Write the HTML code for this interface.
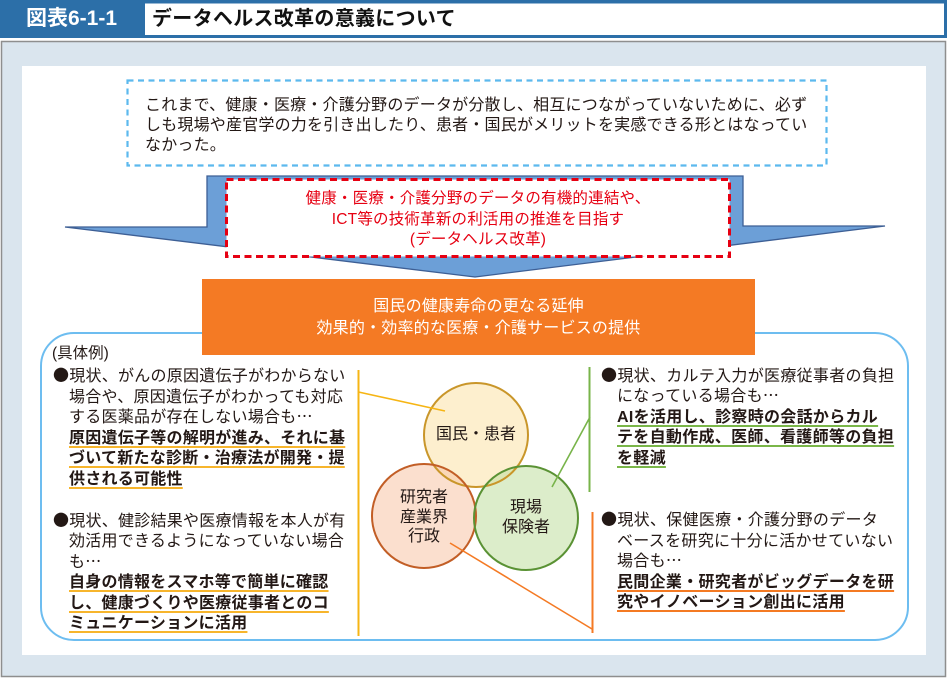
<!DOCTYPE html>
<html><head><meta charset="utf-8">
<style>
html,body{margin:0;padding:0;background:#fff;}
body{width:948px;height:678px;position:relative;overflow:hidden;font-family:"Liberation Sans","Noto Sans CJK JP",sans-serif;color:#231815;}
svg{position:absolute;left:0;top:0;}
.abs{position:absolute;white-space:nowrap;}
.j{font-family:"Noto Sans CJK JP",sans-serif;line-height:0;}
.col{position:absolute;font-size:16px;letter-spacing:0.25px;white-space:nowrap;}
.col div{height:20.4px;line-height:20.4px;}
.in{padding-left:16px;}
.u{font-weight:bold;text-decoration:underline;text-decoration-thickness:2px;text-underline-offset:3px;}
.uy{text-decoration-color:#f7b52c;}
.ug{text-decoration-color:#7ab648;}
.uo{text-decoration-color:#f47a23;}
</style></head>
<body>
<svg width="948" height="678" viewBox="0 0 948 678">
  <rect x="0" y="0" width="947" height="38" fill="#2c6fa8"/>
  <rect x="145" y="3.5" width="799" height="31.5" fill="#fff"/>
  <rect x="1.5" y="41.5" width="944" height="635" fill="#dae5ee" stroke="#8e8e8e" stroke-width="1.5"/>
  <rect x="22" y="66" width="904" height="589" fill="#fff"/>
  <rect x="127.5" y="80.5" width="699" height="85" fill="none" stroke="#5cb9ee" stroke-width="2.2" stroke-dasharray="6 4.5"/>
  <polygon points="207,176 743,176 743,226 885,226 475,277 65,227 207,227" fill="#6c9fd7" stroke="#3d5f95" stroke-width="1.3" stroke-linejoin="miter"/>
  <rect x="226.5" y="179.5" width="503" height="77" fill="#fff" stroke="#e60012" stroke-width="3" stroke-dasharray="7 4.5"/>
  <rect x="41" y="333" width="867" height="307" rx="33" ry="33" fill="#fff" stroke="#6dbdf0" stroke-width="2"/>
  <rect x="202" y="279" width="553" height="76" fill="#f47a24"/>
  <circle cx="476" cy="435" r="52" fill="#fbe2a6" fill-opacity="0.55"/>
  <circle cx="424" cy="516" r="52" fill="#f8c4a6" fill-opacity="0.55"/>
  <circle cx="526" cy="518" r="52" fill="#bfdf9f" fill-opacity="0.55"/>
  <circle cx="476" cy="435" r="52" fill="none" stroke="#c9962a" stroke-width="2"/>
  <circle cx="424" cy="516" r="52" fill="none" stroke="#c25e26" stroke-width="2"/>
  <circle cx="526" cy="518" r="52" fill="none" stroke="#5a9234" stroke-width="2"/>
  <line x1="358.5" y1="370" x2="358.5" y2="636" stroke="#f6b514" stroke-width="2"/>
  <line x1="358.5" y1="392" x2="445" y2="411" stroke="#f6b514" stroke-width="1.6"/>
  <line x1="589.5" y1="367" x2="589.5" y2="492" stroke="#78b44a" stroke-width="2"/>
  <line x1="590" y1="417" x2="552" y2="487" stroke="#78b44a" stroke-width="1.6"/>
  <line x1="592.5" y1="512" x2="592.5" y2="633" stroke="#f47a24" stroke-width="2"/>
  <line x1="450" y1="543" x2="592" y2="629" stroke="#f47a24" stroke-width="1.6"/>
</svg>

<div class="abs" style="left:0;width:143px;top:6px;height:26px;line-height:26px;text-align:center;color:#fff;font-weight:bold;font-size:21px;">図表6-1-1</div>
<div class="abs" style="left:152px;top:6px;height:26px;line-height:26px;font-weight:bold;font-size:20px;letter-spacing:0.3px;color:#111;">データヘルス改革の意義について</div>

<div class="abs" style="left:145px;top:96px;font-size:16px;letter-spacing:0.2px;line-height:20px;">
これまで、健康・医療・介護分野のデータが分散し、相互につながっていないために、必ず<br>しも現場や産官学の力を引き出したり、患者・国民がメリットを実感できる形とはなってい<br>なかった。
</div>

<div class="abs" style="left:226px;width:504px;top:189px;text-align:center;color:#e60012;font-size:15.5px;line-height:20.5px;letter-spacing:0.2px;">
健康・医療・介護分野のデータの有機的連結や、<br>ICT等の技術革新の利活用の推進を目指す<br>(データヘルス改革)
</div>

<div class="abs" style="left:202px;width:553px;top:296px;text-align:center;color:#fff;font-size:16px;line-height:21.5px;letter-spacing:0.2px;">
国民の健康寿命の更なる延伸<br>効果的・効率的な医療・介護サービスの提供
</div>

<div class="abs" style="left:416px;width:120px;top:425px;text-align:center;font-size:16px;line-height:20px;">国民・患者</div>
<div class="abs" style="left:364px;width:120px;top:488px;text-align:center;font-size:16px;line-height:19.5px;">研究者<br>産業界<br>行政</div>
<div class="abs" style="left:466px;width:120px;top:498px;text-align:center;font-size:16px;line-height:20px;">現場<br>保険者</div>

<div class="abs" style="left:52px;top:344px;font-size:15.5px;line-height:20px;">(具体例)</div>

<div class="col" style="left:53px;top:367px;">
  <div style="height:20.5px;line-height:20.5px"><span class="j">●</span>現状、がんの原因遺伝子がわからない</div>
  <div class="in" style="height:20.5px;line-height:20.5px">場合や、原因遺伝子がわかっても対応</div>
  <div class="in" style="height:20.5px;line-height:20.5px">する医薬品が存在しない場合も<span class="j">…</span></div>
  <div class="in" style="height:20.5px;line-height:20.5px"><span class="u uy">原因遺伝子等の解明が進み、それに基</span></div>
  <div class="in" style="height:20.5px;line-height:20.5px"><span class="u uy">づいて新たな診断・治療法が開発・提</span></div>
  <div class="in" style="height:20.5px;line-height:20.5px"><span class="u uy">供される可能性</span></div>
</div>

<div class="col" style="left:53px;top:512px;">
  <div><span class="j">●</span>現状、健診結果や医療情報を本人が有</div>
  <div class="in">効活用できるようになっていない場合</div>
  <div class="in">も<span class="j">…</span></div>
  <div class="in"><span class="u uy">自身の情報をスマホ等で簡単に確認</span></div>
  <div class="in"><span class="u uy">し、健康づくりや医療従事者とのコ</span></div>
  <div class="in"><span class="u uy">ミュニケーションに活用</span></div>
</div>

<div class="col" style="left:601px;top:367px;letter-spacing:0.3px;">
  <div><span class="j">●</span>現状、カルテ入力が医療従事者の負担</div>
  <div class="in">になっている場合も<span class="j">…</span></div>
  <div class="in"><span class="u ug">AIを活用し、診察時の会話からカル</span></div>
  <div class="in"><span class="u ug">テを自動作成、医師、看護師等の負担</span></div>
  <div class="in"><span class="u ug">を軽減</span></div>
</div>

<div class="col" style="left:601px;top:511px;letter-spacing:0.3px;">
  <div style="height:20.5px;line-height:20.5px"><span class="j">●</span>現状、保健医療・介護分野のデータ</div>
  <div class="in" style="height:20.5px;line-height:20.5px">ベースを研究に十分に活かせていない</div>
  <div class="in" style="height:20.5px;line-height:20.5px">場合も<span class="j">…</span></div>
  <div class="in" style="height:20.5px;line-height:20.5px"><span class="u uo">民間企業・研究者がビッグデータを研</span></div>
  <div class="in" style="height:20.5px;line-height:20.5px"><span class="u uo">究やイノベーション創出に活用</span></div>
</div>

</body></html>
